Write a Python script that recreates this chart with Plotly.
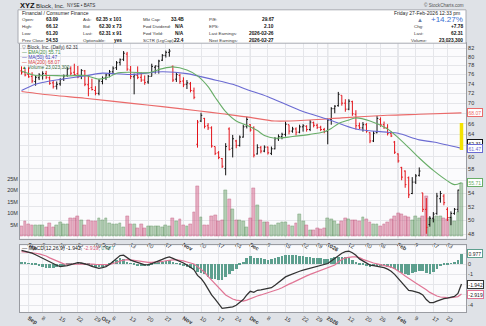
import math
import pandas as pd
import plotly.graph_objects as go

W, H = 486, 326
FONT = "Liberation Sans, Arial, sans-serif"

# ---------------- data ----------------
holidays = ["2025-09-01", "2025-11-27", "2025-12-25", "2026-01-01", "2026-01-19", "2026-02-16"]
dates = [d for d in pd.bdate_range("2025-08-28", "2026-02-27") if d.strftime("%Y-%m-%d") not in holidays]
n = len(dates)
idx = list(range(n))

opens = [76.8, 76.5, 76.0, 75.6, 74.5, 75.3, 75.8, 76.2, 75.3, 74.2,
         73.5, 74.0, 75.0, 75.8, 77.3, 76.5, 76.2, 75.6, 76.8, 73.8,
         73.2, 72.6, 72.0, 74.5, 75.3, 75.9, 76.6, 77.5, 78.7, 79.4,
         80.6, 77.0, 75.5, 75.8, 75.4, 74.8, 74.4, 75.6, 77.6, 77.8,
         79.2, 80.3, 81.0, 77.8, 75.0, 75.8, 74.6, 73.9, 74.0, 72.5,
         62.2, 66.5, 67.0, 65.6, 65.2, 61.8, 60.7, 59.7, 58.0, 65.0,
         61.5, 62.8, 62.0, 63.5, 65.5, 65.8, 65.2, 60.5, 61.6, 61.0,
         61.7, 60.6, 61.4, 63.2, 63.6, 64.0, 65.8, 64.6, 65.0, 64.4,
         65.4, 65.5, 64.9, 66.2, 65.7, 65.3, 64.9, 64.6, 66.8, 68.9,
         69.5, 71.6, 70.0, 68.8, 70.3, 67.8, 65.6, 65.2, 65.8, 64.3,
         62.8, 64.3, 66.8, 65.8, 65.2, 64.2, 62.6, 60.5, 58.2, 57.6,
         56.5, 54.0, 55.8, 56.9, 54.1, 51.6, 49.4, 50.3, 51.0, 53.2,
         53.6, 51.6, 50.4, 51.0, 51.6, 63.09]
highs = [77.8, 77.2, 77.6, 76.5, 75.8, 76.3, 76.7, 76.8, 75.6, 74.8,
         74.5, 75.2, 76.0, 77.6, 77.8, 78.4, 77.9, 77.2, 77.0, 75.8,
         75.1, 73.5, 75.0, 75.6, 76.2, 77.0, 77.8, 79.0, 79.6, 81.3,
         81.1, 77.9, 76.2, 77.8, 76.5, 75.8, 75.9, 78.4, 78.0, 79.3,
         80.6, 81.4, 81.8, 78.0, 76.5, 76.2, 75.4, 74.8, 74.4, 73.2,
         66.7, 68.1, 67.1, 66.1, 65.5, 61.8, 61.0, 59.8, 62.4, 65.3,
         63.9, 63.0, 63.8, 65.8, 67.3, 65.9, 65.5, 62.2, 61.9, 62.0,
         61.8, 61.8, 63.5, 64.0, 64.3, 66.4, 65.8, 65.4, 65.3, 65.8,
         65.9, 65.7, 66.7, 66.4, 66.0, 65.6, 65.2, 67.0, 69.2, 69.6,
         72.3, 71.6, 70.8, 70.8, 70.5, 68.6, 66.2, 66.3, 66.1, 64.4,
         64.6, 67.5, 67.2, 66.4, 65.9, 64.6, 62.8, 60.6, 58.3, 57.7,
         56.7, 56.6, 57.1, 58.2, 54.1, 53.3, 50.6, 51.2, 54.1, 54.4,
         53.9, 51.9, 51.3, 51.8, 54.6, 66.12]
lows = [76.0, 75.6, 75.3, 74.2, 73.6, 74.8, 74.9, 75.0, 73.8, 73.0,
        72.8, 73.6, 74.6, 75.5, 75.8, 75.9, 75.2, 75.0, 73.5, 71.4,
        72.6, 71.6, 71.6, 73.9, 74.8, 75.4, 76.0, 77.0, 78.0, 79.0,
        76.8, 75.0, 71.8, 75.0, 74.4, 73.8, 74.0, 75.6, 76.2, 76.2,
        79.0, 79.8, 80.0, 74.4, 74.4, 74.0, 73.3, 72.9, 72.2, 70.8,
        61.6, 66.3, 65.1, 64.8, 61.6, 60.3, 59.6, 58.1, 56.9, 61.1,
        59.9, 61.5, 61.8, 63.4, 65.1, 64.5, 59.9, 60.4, 60.6, 60.8,
        60.4, 60.3, 61.3, 62.8, 63.1, 63.6, 64.0, 64.3, 63.8, 64.2,
        64.5, 64.5, 64.6, 65.3, 65.0, 64.6, 64.2, 62.2, 65.8, 68.0,
        69.3, 69.5, 68.3, 68.6, 67.5, 64.9, 65.0, 64.5, 64.3, 62.4,
        62.6, 64.2, 65.4, 65.0, 63.8, 63.5, 60.5, 59.0, 56.1, 54.9,
        53.3, 53.9, 55.5, 56.7, 51.2, 48.1, 49.1, 49.7, 50.8, 52.6,
        52.2, 49.9, 49.3, 50.8, 51.2, 61.20]
closes = [76.4, 75.9, 75.5, 74.6, 75.4, 75.9, 76.2, 75.4, 74.1, 73.4,
          73.9, 74.9, 75.7, 77.2, 76.3, 76.0, 75.5, 76.9, 73.9, 73.0,
          72.8, 72.0, 74.6, 75.2, 75.9, 76.6, 77.4, 78.6, 79.3, 80.8,
          77.2, 75.6, 75.9, 75.4, 74.8, 74.3, 75.6, 77.8, 77.9, 79.0,
          80.3, 81.0, 81.3, 74.8, 76.0, 74.5, 73.8, 74.2, 72.6, 71.2,
          66.3, 67.6, 65.5, 65.2, 61.9, 60.6, 59.9, 58.4, 61.8, 61.3,
          63.2, 62.0, 63.5, 65.4, 66.8, 64.8, 60.3, 61.6, 61.0, 61.7,
          60.7, 61.4, 63.2, 63.6, 64.0, 65.9, 64.6, 65.0, 64.4, 65.4,
          65.6, 64.9, 66.3, 65.7, 65.3, 64.9, 64.5, 66.7, 68.9, 69.4,
          71.8, 70.0, 68.8, 70.4, 67.9, 65.6, 65.2, 65.8, 64.6, 62.8,
          64.2, 67.0, 65.8, 65.3, 64.2, 63.7, 60.8, 59.3, 56.6, 55.4,
          53.8, 55.8, 56.8, 57.6, 51.6, 49.0, 50.3, 50.9, 53.6, 54.0,
          52.6, 50.4, 51.0, 51.6, 54.53, 62.31]
volume_m = [4.7, 6.8, 5.5, 4.8, 4.8, 4.9, 4.8, 4.0, 5.8, 4.2,
            4.8, 6.3, 5.2, 5.2, 7.8, 7.8, 9.0, 7.3, 4.8, 7.3,
            6.5, 6.8, 7.8, 7.0, 7.8, 6.0, 5.4, 5.4, 5.8, 4.2,
            9.0, 5.3, 5.3, 3.8, 5.4, 3.8, 4.4, 4.6, 4.5, 4.4,
            4.2, 4.8, 4.5, 8.0, 6.8, 7.5, 5.0, 4.7, 5.3, 10.5,
            21.7, 8.3, 5.0, 5.0, 8.7, 9.4, 6.8, 7.3, 20.0, 16.0,
            12.0, 7.3, 7.3, 6.8, 4.0, 7.8, 21.0, 13.5, 7.2, 6.4,
            6.1, 5.1, 5.1, 5.8, 6.4, 6.1, 5.0, 4.7, 5.8, 9.9,
            6.8, 5.0, 2.6, 2.6, 3.5, 3.0, 3.5, 8.0, 7.5, 6.8,
            5.4, 6.5, 7.8, 7.5, 7.2, 7.3, 6.8, 8.2, 7.5, 6.1,
            5.4, 5.2, 4.7, 5.2, 6.4, 7.5, 8.7, 10.0, 9.6, 8.7,
            8.2, 7.2, 8.9, 7.8, 9.0, 17.4, 7.8, 7.5, 8.7, 8.9,
            7.8, 7.5, 8.2, 6.8, 10.4, 23.0233]

ema20_idx = [0, 4, 8, 13, 18, 22, 25, 27, 31, 36, 40, 43, 47, 50, 53, 55, 58, 61, 64, 67,
             69, 72, 77, 82, 86, 88, 90, 93, 95, 99, 104, 107, 110, 113, 117, 121, 123, 125]
ema20_val = [76.8, 75.8, 75.8, 75.7, 75.8, 75.0, 75.5, 76.3, 76.5, 76.4, 77.3, 77.7, 77.0, 75.7,
             73.4, 71.2, 68.3, 66.5, 65.7, 64.7, 63.8, 63.3, 63.6, 64.0, 64.5, 65.1, 66.0, 66.7,
             67.1, 66.5, 65.0, 63.4, 61.6, 59.8, 57.7, 56.0, 55.4, 55.71]
sma50_idx = [0, 4, 8, 18, 23, 31, 40, 47, 54, 60, 64, 70, 79, 88, 95, 104, 107, 113, 117, 125]
sma50_val = [72.6, 73.9, 74.6, 75.7, 76.3, 76.0, 76.6, 76.2, 75.0, 73.9, 72.8, 71.3, 68.6, 66.6,
             65.0, 64.4, 64.2, 63.0, 62.6, 61.47]
sma200_idx = [0, 9, 18, 32, 40, 50, 57, 64, 72, 82, 91, 104, 113, 125]
sma200_val = [72.4, 71.6, 71.0, 69.9, 69.3, 68.5, 67.9, 67.3, 66.5, 66.7, 67.1, 67.6, 67.8, 68.07]

macd = [1.33, 1.25, 1.18, 1.05, 0.90, 0.72, 0.55, 0.40, 0.22, 0.05,
        -0.12, -0.25, -0.22, -0.16, -0.05, 0.05, 0.13, 0.10, 0.02, -0.08,
        -0.22, -0.35, -0.41, -0.35, -0.25, -0.05, 0.25, 0.55, 0.82, 0.86,
        0.60, 0.38, 0.25, 0.10, 0.03, -0.08, -0.06, 0.05, 0.16, 0.30,
        0.45, 0.60, 0.70, 0.55, 0.42, 0.30, 0.10, -0.10, -0.30, -0.55,
        -1.10, -1.40, -1.85, -2.45, -3.00, -3.40, -3.90, -4.30, -4.25, -4.20,
        -4.15, -4.00, -3.75, -3.45, -3.00, -2.65, -2.75, -2.55, -2.50, -2.45,
        -2.40, -2.30, -2.05, -1.80, -1.55, -1.25, -1.10, -0.95, -0.80, -0.70,
        -0.60, -0.50, -0.40, -0.30, -0.20, -0.10, -0.03, 0.05, 0.30, 0.55,
        0.86, 1.05, 1.20, 1.24, 1.10, 0.85, 0.50, 0.30, 0.10, -0.10,
        -0.15, -0.20, -0.25, -0.35, -0.50, -0.70, -1.00, -1.40, -1.80, -2.20,
        -2.55, -2.60, -2.70, -2.80, -3.00, -3.45, -3.75, -3.75, -3.60, -3.45,
        -3.35, -3.30, -3.25, -3.15, -2.85, -1.942]
signal = [1.20, 1.18, 1.15, 1.10, 1.05, 0.98, 0.90, 0.78, 0.60, 0.45,
          0.25, 0.10, 0.02, 0.00, 0.00, 0.02, 0.05, 0.06, 0.06, 0.04,
          0.00, -0.03, -0.05, -0.06, -0.05, -0.03, 0.03, 0.15, 0.30, 0.38,
          0.42, 0.40, 0.35, 0.30, 0.25, 0.18, 0.16, 0.16, 0.17, 0.20,
          0.25, 0.32, 0.38, 0.40, 0.40, 0.38, 0.30, 0.20, 0.10, 0.00,
          -0.25, -0.50, -0.80, -1.20, -1.55, -1.95, -2.35, -2.70, -3.00, -3.20,
          -3.40, -3.50, -3.58, -3.60, -3.50, -3.35, -3.25, -3.10, -3.00, -2.90,
          -2.80, -2.72, -2.60, -2.45, -2.30, -2.10, -1.95, -1.80, -1.62, -1.45,
          -1.30, -1.15, -1.00, -0.88, -0.75, -0.62, -0.50, -0.40, -0.25, -0.10,
          0.20, 0.45, 0.60, 0.68, 0.70, 0.70, 0.62, 0.45, 0.32, 0.20,
          0.10, 0.02, -0.05, -0.10, -0.20, -0.30, -0.45, -0.65, -0.90, -1.15,
          -1.40, -1.65, -1.85, -2.05, -2.25, -2.50, -2.75, -2.95, -3.10, -3.20,
          -3.25, -3.26, -3.26, -3.24, -3.16, -2.919]

tick_idx = [2, 6, 11, 16, 21, 23, 26, 31, 36, 41, 46, 51, 56, 61, 65, 70, 75, 80, 84, 87,
            93, 98, 102, 107, 112, 117, 121]
tick_txt = ["<b>Sep</b>", "8", "15", "22", "29", "<b>Oct</b>", "6", "13", "20", "27", "<b>Nov</b>",
            "10", "17", "24", "<b>Dec</b>", "8", "15", "22", "29", "<b>2026</b>", "12", "20", "26",
            "<b>Feb</b>", "9", "17", "23"]
month_idx = [2, 23, 46, 65, 87, 107]
price_ticks = list(range(48, 84, 2))
price_tick_txt = ["" if t in (56, 62, 68) else str(t) for t in price_ticks]
vol_ticks = [5, 10, 15, 20, 25]
vol_tick_txt = ["5M", "10M", "15M", "20M", "25M"]
macd_grid = [-4, -3, -2, -1, 0, 1]
macd_tick_txt = ["-4", "", "", "-1", "0", ""]

header_rows = [
    ["Open:", "63.09", "Ask:", "62.35 x 101", "Mkt Cap:", "33.4B", "P/E:", "29.67"],
    ["High:", "66.12", "Bid:", "62.30 x 73", "Fwd Dividend:", "N/A", "EPS:", "2.10"],
    ["Low:", "61.20", "Last:", "62.31 x 91", "Fwd Yield:", "N/A", "Last Earnings:", "2026-02-26"],
    ["Prev Close:", "54.53", "Optionable:", "yes", "SCTR (LrgCap):", "22.4", "Next Earnings:", "2026-02-27"],
]
right_rows = [["Chg:", "+7.78"], ["Last:", "62.31"], ["Volume:", "23,023,300"]]

# ---------------- styling ----------------
C_UP, C_DN = "#111111", "#e3141b"
C_EMA, C_SMA50, C_SMA200 = "#68ad68", "#6a6ad2", "#ea6a6a"
VOL_UP, VOL_DN = "rgba(120,170,120,0.55)", "rgba(214,110,145,0.55)"
VOL_UP_L, VOL_DN_L = "rgba(95,145,95,0.8)", "rgba(190,85,120,0.8)"
C_MACD, C_SIG, C_HIST = "#333333", "#e07595", "#5d9f8e"
GRID, GRID_M = "#e5e6ea", "#c4c6cc"
PAPER, PLOT = "#dfe2e7", "#fbfbfd"


def px(x):
    return x / W


def py(y):
    return 1 - y / H


xdom = [px(20), px(466)]
pdom = [py(243), py(44)]
mdom = [py(318), py(250)]
xrange_ = [-0.43, 126.28]
prange = [math.log10(47.45), math.log10(83.16)]

up = [closes[0] >= opens[0]] + [closes[i] >= closes[i - 1] for i in range(1, n)]

fig = go.Figure()

# volume (base axis y)
fig.add_trace(go.Bar(
    x=idx, y=volume_m, width=0.8,
    marker=dict(color=[VOL_UP if u else VOL_DN for u in up],
                line=dict(color=[VOL_UP_L if u else VOL_DN_L for u in up], width=0.5)),
    xaxis="x", yaxis="y", hoverinfo="skip", showlegend=False))

# moving averages (price axis y2)
for xs, ys, col in [(sma200_idx, sma200_val, C_SMA200), (sma50_idx, sma50_val, C_SMA50),
                    (ema20_idx, ema20_val, C_EMA)]:
    fig.add_trace(go.Scatter(x=xs, y=ys, mode="lines",
                             line=dict(color=col, width=1.1, shape="spline", smoothing=0.8),
                             xaxis="x", yaxis="y2", hoverinfo="skip", showlegend=False))

# last bar highlight
last = n - 1
fig.add_trace(go.Scatter(x=[idx[last], idx[last]], y=[lows[last], highs[last]], mode="lines",
                         line=dict(color="#f3e200", width=3.5), xaxis="x", yaxis="y2",
                         hoverinfo="skip", showlegend=False))

# OHLC bars split by close vs previous close
for flag, col in [(True, C_UP), (False, C_DN)]:
    sel = [i for i in idx if up[i] == flag]
    fig.add_trace(go.Ohlc(
        x=sel, open=[opens[i] for i in sel], high=[highs[i] for i in sel],
        low=[lows[i] for i in sel], close=[closes[i] for i in sel],
        increasing=dict(line=dict(color=col, width=1)), decreasing=dict(line=dict(color=col, width=1)),
        tickwidth=0.35, xaxis="x", yaxis="y2", hoverinfo="skip", showlegend=False))

# MACD
hist = [m - s for m, s in zip(macd, signal)]
fig.add_trace(go.Bar(x=idx, y=hist, width=0.75, marker=dict(color=C_HIST, line=dict(width=0)),
                     xaxis="x2", yaxis="y3", hoverinfo="skip", showlegend=False))
fig.add_trace(go.Scatter(x=idx, y=signal, mode="lines", line=dict(color=C_SIG, width=1.2),
                         xaxis="x2", yaxis="y3", hoverinfo="skip", showlegend=False))
fig.add_trace(go.Scatter(x=idx, y=macd, mode="lines", line=dict(color=C_MACD, width=1.3),
                         xaxis="x2", yaxis="y3", hoverinfo="skip", showlegend=False))

axis_common = dict(showline=True, linecolor="#9a9ca2", linewidth=1, mirror=True, zeroline=False,
                   gridcolor=GRID, gridwidth=1, ticks="", tickfont=dict(family=FONT, size=5.5, color="#333"))

fig.update_layout(
    width=W, height=H, margin=dict(l=0, r=0, t=0, b=0),
    paper_bgcolor=PAPER, plot_bgcolor=PLOT, bargap=0, showlegend=False,
    xaxis=dict(domain=xdom, range=xrange_, anchor="y", tickmode="array", tickvals=tick_idx,
               ticktext=tick_txt, showgrid=True, rangeslider=dict(visible=False), **axis_common),
    yaxis=dict(domain=pdom, range=[-0.85, 83.8], side="left", anchor="x", tickmode="array",
               tickvals=vol_ticks, ticktext=vol_tick_txt, showgrid=False,
               **{k: v for k, v in axis_common.items() if k != "gridcolor"}),
    yaxis2=dict(overlaying="y", type="log", range=prange, side="right", anchor="x", tickmode="array",
                tickvals=price_ticks, ticktext=price_tick_txt, showgrid=True,
                **{k: v for k, v in axis_common.items() if k not in ("showline", "mirror")}),
    xaxis2=dict(domain=xdom, range=xrange_, anchor="y3", tickmode="array", tickvals=tick_idx,
                ticktext=tick_txt, showgrid=True, **axis_common),
    yaxis3=dict(domain=mdom, range=[-4.67, 1.81], side="right", anchor="x2", tickmode="array",
                tickvals=macd_grid, ticktext=macd_tick_txt, showgrid=True, **axis_common),
)

# darker month grid lines
for m in month_idx:
    for yd in (pdom, mdom):
        fig.add_shape(type="line", xref="x", yref="paper", x0=m, x1=m, y0=yd[0], y1=yd[1],
                      line=dict(color=GRID_M, width=1), layer="below")

# header box
fig.add_shape(type="rect", xref="paper", yref="paper", x0=px(18), x1=px(466), y0=py(44), y1=py(10),
              fillcolor="#ffffff", line=dict(color="#a8abb2", width=1), layer="above")


def txt(x, y, s, size=5.0, color="#222", anchor="left", **kw):
    fig.add_annotation(x=px(x), y=py(y), xref="paper", yref="paper", text=s, showarrow=False,
                       xanchor=anchor, yanchor="middle", borderpad=0,
                       font=dict(family=FONT, size=size, color=color), **kw)


# title
txt(19, 5.5, "<b>XYZ</b>", size=7.5, color="#111")
txt(35, 5.5, "Block, Inc.", size=6.2, color="#222")
txt(66, 5.8, "NYSE • BATS", size=4.6, color="#333")
txt(465, 5, "© StockCharts.com", size=4.6, color="#555", anchor="right")

# header content
txt(21, 13, "Financial / Consumer Finance", size=5.0, color="#222")
txt(461, 13, "Friday 27-Feb-2026 12:33 pm", size=5.0, color="#222", anchor="right")
label_x = [21, 82, 142, 208]
value_r = [59, 123, 185, 275]
for r, row in enumerate(header_rows):
    yy = 20 + r * 7
    for c in range(4):
        txt(label_x[c], yy, row[2 * c], size=4.4, color="#333")
        txt(value_r[c], yy, "<b>" + row[2 * c + 1] + "</b>", size=4.8, color="#111", anchor="right")
txt(416, 20, "▲", size=6, color="#6a7fa8")
txt(464, 20, "+14.27%", size=8, color="#3b6fd1", anchor="right")
for r, (lab, val) in enumerate(right_rows):
    yy = 27 + r * 7
    txt(413 if lab != "Volume:" else 410, yy, lab, size=4.4, color="#333")
    txt(464, yy, "<b>" + val + "</b>", size=4.8, color="#111", anchor="right")

# price legend
txt(21, 48, "▽ Block, Inc. (Daily) 62.31", size=4.8, color="#333")
txt(21, 53, "— EMA(20) 55.71", size=4.8, color="#3d8a3d")
txt(21, 58.5, "— MA(50) 61.47", size=4.8, color="#3f3fb5")
txt(21, 64, "— MA(200) 68.07", size=4.8, color="#d43a3a")
txt(21, 69, "▲ Volume 23,023,300", size=4.8, color="#3d6d3d")

# MACD legend
txt(21, 252.5, "— MACD(12,26,9) -1.942, <span style='color:#d4587c'>-2.919</span>, "
               "<span style='color:#4f9a88'>0.977</span>", size=5.2, color="#222")

# value tags on the right axis
for val, col in [(68.07, C_SMA200), (62.31, "#111111"), (61.47, C_SMA50), (55.71, C_EMA)]:
    fig.add_annotation(x=px(467), y=math.log10(val), xref="paper", yref="y2", text=f"{val:.2f}",
                       showarrow=False, xanchor="left", yanchor="middle", bgcolor="#ffffff",
                       bordercolor=col, borderwidth=1, borderpad=0.5,
                       font=dict(family=FONT, size=5, color="#222" if col == "#111111" else col))
for val, col in [(hist[-1], C_HIST), (macd[-1], "#333333"), (signal[-1], C_SIG)]:
    fig.add_annotation(x=px(467), y=val, xref="paper", yref="y3", text=f"{val:.3f}",
                       showarrow=False, xanchor="left", yanchor="middle", bgcolor="#ffffff",
                       bordercolor=col, borderwidth=1, borderpad=0.5,
                       font=dict(family=FONT, size=5, color="#222"))

fig.write_html("out.html")
